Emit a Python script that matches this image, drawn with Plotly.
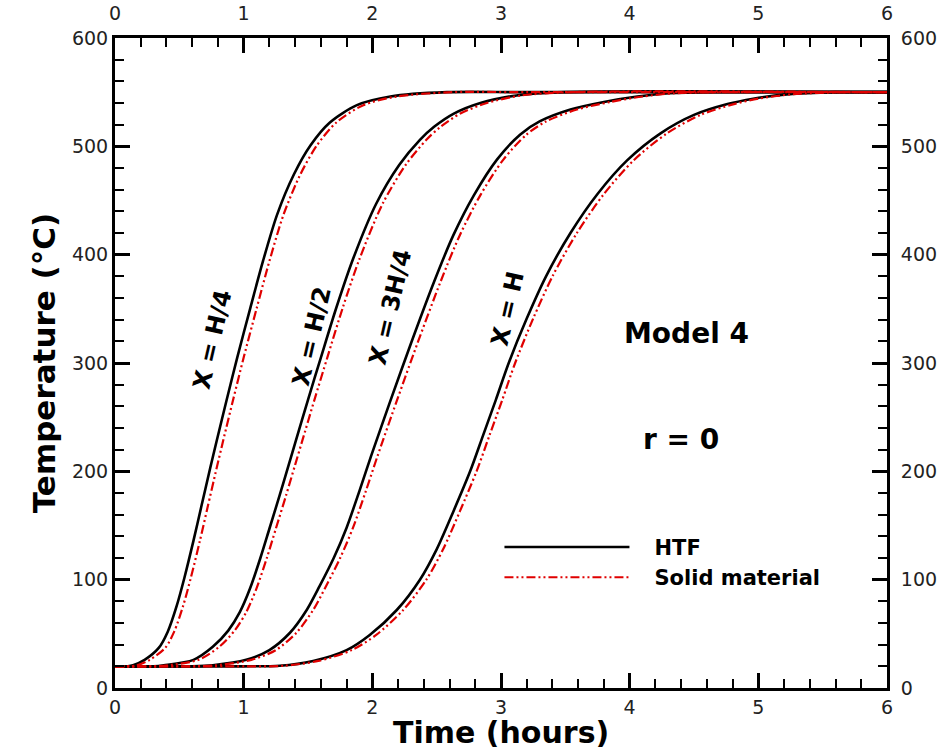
import plotly.graph_objects as go

# ---------------- data ----------------
t_h4_htf = [0, 0.10, 0.14, 0.23, 0.34, 0.41, 0.48, 0.54, 0.61, 0.67, 0.74, 0.79, 0.87, 0.95, 1.05, 1.15, 1.26, 1.39, 1.52, 1.67, 1.88, 2.14, 2.58, 3.20, 6.00]
T_h4_htf = [20, 20, 21, 26, 37, 52, 76, 102, 136, 167, 203, 228, 267, 305, 350, 394, 437, 474, 501, 522, 538, 546, 550, 550, 550]
t_h4_sol = [0, 0.12, 0.17, 0.27, 0.39, 0.46, 0.53, 0.59, 0.66, 0.72, 0.79, 0.84, 0.92, 1.00, 1.10, 1.20, 1.31, 1.44, 1.57, 1.72, 1.93, 2.19, 2.62, 3.20, 6.00]
T_h4_sol = [20, 20, 21, 26, 37, 52, 76, 102, 136, 167, 203, 228, 267, 305, 350, 394, 437, 474, 501, 522, 538, 546, 550, 550, 550]

t_h2_htf = [0, 0.30, 0.38, 0.61, 0.76, 0.88, 0.97, 1.05, 1.13, 1.20, 1.28, 1.35, 1.40, 1.50, 1.60, 1.72, 1.85, 2.03, 2.21, 2.37, 2.48, 2.63, 2.84, 3.12, 3.50, 6.00]
T_h2_htf = [20, 20, 21, 26, 38, 53, 70, 92, 120, 147, 178, 206, 226, 266, 305, 351, 396, 447, 483, 506, 518, 530, 540, 547, 550, 550]
t_h2_sol = [0, 0.32, 0.41, 0.65, 0.81, 0.93, 1.02, 1.10, 1.18, 1.25, 1.33, 1.40, 1.45, 1.55, 1.65, 1.77, 1.90, 2.08, 2.26, 2.42, 2.53, 2.68, 2.89, 3.16, 3.54, 6.00]
T_h2_sol = [20, 20, 21, 26, 38, 53, 70, 92, 120, 147, 178, 206, 226, 266, 305, 351, 396, 447, 483, 506, 518, 530, 540, 547, 550, 550]

t_3h4_htf = [0, 0.60, 0.76, 1.02, 1.20, 1.36, 1.49, 1.59, 1.70, 1.80, 1.90, 1.99, 2.14, 2.30, 2.48, 2.63, 2.79, 2.97, 3.15, 3.30, 3.54, 3.80, 4.06, 4.31, 4.70, 6.00]
T_3h4_htf = [20, 20, 21, 26, 35, 51, 72, 94, 120, 148, 182, 214, 265, 318, 375, 418, 455, 488, 511, 523, 534, 541, 546, 549, 550, 550]
t_3h4_sol = [0, 0.62, 0.79, 1.06, 1.25, 1.41, 1.54, 1.64, 1.75, 1.85, 1.95, 2.04, 2.19, 2.35, 2.53, 2.68, 2.84, 3.02, 3.20, 3.35, 3.59, 3.85, 4.10, 4.35, 4.74, 6.00]
T_3h4_sol = [20, 20, 21, 26, 35, 51, 72, 94, 120, 148, 182, 214, 265, 318, 375, 418, 455, 488, 511, 523, 534, 541, 546, 549, 550, 550]

t_h_htf = [0, 1.00, 1.28, 1.54, 1.80, 1.98, 2.19, 2.37, 2.50, 2.63, 2.76, 2.86, 2.96, 3.06, 3.20, 3.35, 3.54, 3.75, 3.98, 4.24, 4.50, 4.76, 4.96, 5.22, 5.60, 6.00]
T_h_htf = [20, 20, 20.5, 25, 35, 49, 72, 100, 128, 163, 200, 233, 266, 300, 341, 380, 420, 456, 487, 512, 529, 539, 544, 548, 550, 550]
t_h_sol = [0, 1.02, 1.31, 1.58, 1.84, 2.03, 2.24, 2.42, 2.55, 2.68, 2.81, 2.91, 3.01, 3.11, 3.25, 3.40, 3.59, 3.80, 4.03, 4.29, 4.55, 4.81, 5.00, 5.26, 5.64, 6.00]
T_h_sol = [20, 20, 20.5, 25, 35, 49, 72, 100, 128, 163, 200, 233, 266, 300, 341, 380, 420, 456, 487, 512, 529, 539, 544, 548, 550, 550]

curve_labels = ["X = H/4", "X = H/2", "X = 3H/4", "X = H"]
label_t = [0.76, 1.53, 2.14, 3.05]
label_T = [322, 325, 352, 350]

x_ticks = [0, 1, 2, 3, 4, 5, 6]
y_ticks = [0, 100, 200, 300, 400, 500, 600]

FONT = "DejaVu Sans, Verdana, sans-serif"

fig = go.Figure()

htf_sets = [(t_h4_htf, T_h4_htf), (t_h2_htf, T_h2_htf), (t_3h4_htf, T_3h4_htf), (t_h_htf, T_h_htf)]
sol_sets = [(t_h4_sol, T_h4_sol), (t_h2_sol, T_h2_sol), (t_3h4_sol, T_3h4_sol), (t_h_sol, T_h_sol)]

for i, (tt, TT) in enumerate(htf_sets):
    fig.add_trace(go.Scatter(
        x=tt, y=TT, mode="lines", name="\u00a0\u00a0\u00a0<b>HTF</b>", legendgroup="htf",
        showlegend=(i == 0),
        line=dict(color="black", width=2.6, shape="spline", smoothing=0.8)))
for i, (tt, TT) in enumerate(sol_sets):
    fig.add_trace(go.Scatter(
        x=tt, y=TT, mode="lines", name="\u00a0\u00a0\u00a0<b>Solid material</b>", legendgroup="sol",
        showlegend=(i == 0),
        line=dict(color="#e00000", width=2.2, shape="spline", smoothing=0.8,
                  dash="9px,3px,2px,3px,2px,3px")))

# invisible trace for the labelled top / right axes
fig.add_trace(go.Scatter(x=[0, 6], y=[0, 600], xaxis="x2", yaxis="y2",
                         mode="markers", marker=dict(opacity=0), showlegend=False,
                         hoverinfo="skip"))

for lab, lt, lT in zip(curve_labels, label_t, label_T):
    fig.add_annotation(x=lt, y=lT, text="<b>" + lab + "</b>", showarrow=False,
                       textangle=-77, font=dict(family=FONT, size=24, color="black"))

fig.add_annotation(x=4.44, y=327, text="<b>Model 4</b>", showarrow=False,
                   font=dict(family=FONT, size=28, color="black"))
fig.add_annotation(x=4.40, y=229, text="<b>r = 0</b>", showarrow=False,
                   font=dict(family=FONT, size=28, color="black"))

# x-axis title placed as a paper annotation for exact vertical control
fig.add_annotation(x=0.5, y=0, xref="paper", yref="paper", xanchor="center", yanchor="top",
                   yshift=-25, text="<b>Time (hours)</b>", showarrow=False,
                   font=dict(family=FONT, size=30, color="black"))

tickfont = dict(family=FONT, size=19, color="#222222")
axis_common = dict(
    showline=True, linecolor="black", linewidth=3, mirror="allticks",
    ticks="inside", ticklen=15, tickwidth=3, tickcolor="black",
    showgrid=False, zeroline=False, tickfont=tickfont, automargin=False,
)
sec_common = dict(
    ticks="outside", ticklen=9, tickcolor="rgba(0,0,0,0)", showline=False,
    showgrid=False, zeroline=False, tickfont=tickfont, automargin=False,
)

fig.update_layout(
    width=950, height=753,
    margin=dict(l=115, r=63, t=38, b=65),
    paper_bgcolor="white", plot_bgcolor="white",
    xaxis=dict(range=[0, 6], tickvals=x_ticks, ticktext=[str(v) for v in x_ticks],
               minor=dict(dtick=0.2, ticks="inside", ticklen=9, tickwidth=2, tickcolor="black"),
               **axis_common),
    yaxis=dict(range=[0, 600], tickvals=y_ticks, ticktext=[str(v) for v in y_ticks],
               minor=dict(dtick=20, ticks="inside", ticklen=9, tickwidth=2, tickcolor="black"),
               title=dict(text="<b>Temperature (°C)</b>", font=dict(family=FONT, size=31, color="black"), standoff=8),
               **axis_common),
    xaxis2=dict(range=[0, 6], overlaying="x", side="top", tickvals=x_ticks,
                ticktext=[str(v) for v in x_ticks], anchor="y", **sec_common),
    yaxis2=dict(range=[0, 600], overlaying="y", side="right", tickvals=y_ticks,
                ticktext=[str(v) for v in y_ticks], anchor="x", **sec_common),
    legend=dict(x=0.498, y=0.248, xanchor="left", yanchor="top",
                bgcolor="rgba(0,0,0,0)", itemwidth=125, tracegroupgap=0,
                font=dict(family=FONT, size=21, color="black")),
    showlegend=True,
)

fig.write_html("out.html", config={"displayModeBar": False},
               post_script="document.body.style.margin='0px';document.body.style.overflow='hidden';")
